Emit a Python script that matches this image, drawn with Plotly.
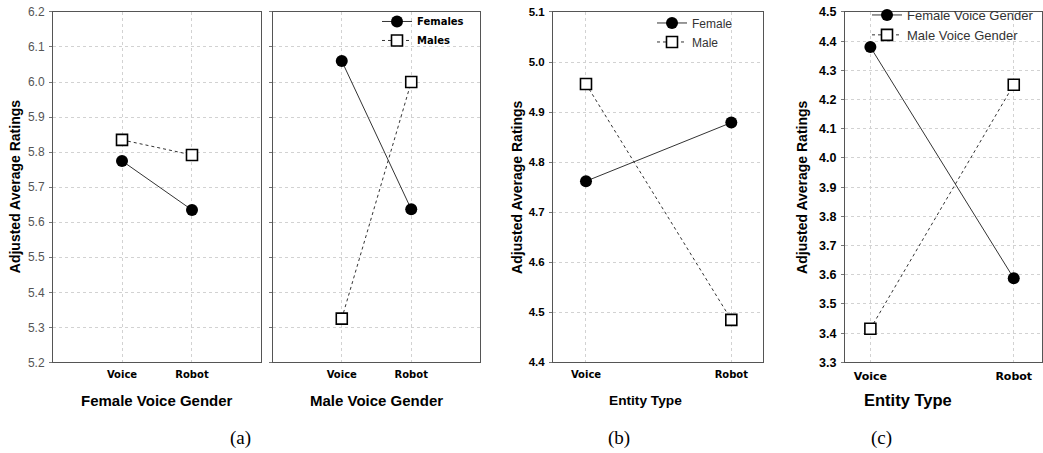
import plotly.graph_objects as go

W, H = 1043, 453

categories = ["Voice", "Robot"]

# Panel (a) left: Female Voice Gender
a1_females = [5.775, 5.635]
a1_males = [5.835, 5.792]
# Panel (a) right: Male Voice Gender
a2_females = [6.06, 5.637]
a2_males = [5.325, 6.0]
# Panel (b): Entity Type by participant gender
b_female = [4.762, 4.879]
b_male = [4.956, 4.485]
# Panel (c): Entity Type by voice gender
c_female_vg = [4.38, 3.588]
c_male_vg = [3.415, 4.251]

a_yticks = [5.2, 5.3, 5.4, 5.5, 5.6, 5.7, 5.8, 5.9, 6.0, 6.1, 6.2]
b_yticks = [4.4, 4.5, 4.6, 4.7, 4.8, 4.9, 5.0, 5.1]
c_yticks = [3.3, 3.4, 3.5, 3.6, 3.7, 3.8, 3.9, 4.0, 4.1, 4.2, 4.3, 4.4, 4.5]


def px(x):
    return x / W


def py(y):
    return 1 - y / H


TOP, BOT = 10, 362
ydom = [py(BOT), py(TOP)]

fig = go.Figure()

LINE_COL = "#333333"
female_marker = dict(symbol="circle", size=12, color="black")
male_marker = dict(symbol="square", size=11, color="white", line=dict(color="black", width=1.6))


def add_pair(xa, ya, f, m, names, legend, show):
    fig.add_trace(go.Scatter(
        x=categories, y=f, mode="lines+markers", name=names[0],
        line=dict(color=LINE_COL, width=1), marker=female_marker,
        xaxis=xa, yaxis=ya, legend=legend, showlegend=show))
    fig.add_trace(go.Scatter(
        x=categories, y=m, mode="lines+markers", name=names[1],
        line=dict(color=LINE_COL, width=1, dash="dot"), marker=male_marker,
        xaxis=xa, yaxis=ya, legend=legend, showlegend=show))


add_pair("x", "y", a1_females, a1_males, ["Females", "Males"], "legend", False)
add_pair("x2", "y2", a2_females, a2_males, ["Females", "Males"], "legend", True)
add_pair("x3", "y3", b_female, b_male, ["Female", "Male"], "legend2", True)
add_pair("x4", "y4", c_female_vg, c_male_vg, ["Female Voice Gender", "Male Voice Gender"], "legend3", True)

frame = dict(showline=True, linecolor="#555555", linewidth=1, mirror=True,
             showgrid=True, gridcolor="#d2d2d2", griddash="dot", gridwidth=1,
             zeroline=False, fixedrange=True, automargin=False)


def xaxis(dom, rng, fsize):
    d = dict(frame)
    d.update(domain=[px(dom[0]), px(dom[1])], range=rng, type="category",
             ticks="", ticklabelstandoff=3,
             tickfont=dict(family="DejaVu Sans", size=fsize, color="black", weight="bold"))
    return d


def yaxis(anchor, rng, tickv, fsize, bold, color, showlabels=True):
    d = dict(frame)
    d.update(domain=ydom, range=rng, anchor=anchor, tickvals=tickv,
             ticktext=[f"{v:.1f}" for v in tickv], showticklabels=showlabels,
             ticks="outside", ticklen=3, tickcolor="#777777", ticklabelstandoff=2,
             tickfont=dict(family="Liberation Sans, Arial", size=fsize, color=color,
                           weight="bold" if bold else "normal"))
    return d


fig.update_layout(
    template="none",
    width=W, height=H, autosize=False,
    margin=dict(l=0, r=0, t=0, b=0, pad=0),
    paper_bgcolor="white", plot_bgcolor="white",
    xaxis=xaxis([53, 261], [-0.986, 1.986], 10),
    yaxis=yaxis("x", [5.2, 6.2], a_yticks, 12, False, "#555555"),
    xaxis2=xaxis([273, 480], [-0.99, 1.99], 10),
    yaxis2=yaxis("x2", [5.2, 6.2], a_yticks, 12, False, "#555555", showlabels=False),
    xaxis3=xaxis([553, 763], [-0.227, 1.218], 10),
    yaxis3=yaxis("x3", [4.4, 5.1], b_yticks, 11.5, True, "black"),
    xaxis4=xaxis([845, 1042], [-0.177, 1.197], 11),
    yaxis4=yaxis("x4", [3.3, 4.5], c_yticks, 12.5, True, "black"),
    legend=dict(x=px(377), y=py(5), xanchor="left", yanchor="top",
                bgcolor="rgba(0,0,0,0)", borderwidth=0,
                font=dict(family="DejaVu Sans", size=10, color="black", weight="bold")),
    legend2=dict(x=px(652), y=py(6.5), xanchor="left", yanchor="top",
                 bgcolor="rgba(0,0,0,0)", borderwidth=0,
                 font=dict(family="Liberation Sans, Arial", size=12, color="#333333")),
    legend3=dict(x=px(867), y=py(-2), xanchor="left", yanchor="top",
                 bgcolor="rgba(0,0,0,0)", borderwidth=0,
                 font=dict(family="Liberation Sans, Arial", size=13, color="#333333")),
    showlegend=True,
)

ann = []
bold_font = lambda s: dict(family="Liberation Sans, Arial", size=s, color="black", weight="bold")
# y axis titles
for xc in [15, 516.7, 801.7]:
    ann.append(dict(x=px(xc), y=py(186), xref="paper", yref="paper",
                    text="Adjusted Average Ratings", textangle=-90, showarrow=False,
                    font=bold_font(14), xanchor="center", yanchor="middle"))
# x axis titles
for xc, txt, s in [(157, "Female Voice Gender", 15), (376.5, "Male Voice Gender", 15),
                   (645, "Entity Type", 13.7), (908, "Entity Type", 16.5)]:
    ann.append(dict(x=px(xc), y=py(400), xref="paper", yref="paper", text=txt,
                    showarrow=False, font=bold_font(s), xanchor="center", yanchor="middle"))
# captions
for xc, txt in [(240, "(a)"), (619, "(b)"), (881, "(c)")]:
    ann.append(dict(x=px(xc), y=py(438), xref="paper", yref="paper", text=txt,
                    showarrow=False,
                    font=dict(family="Liberation Serif, DejaVu Serif, serif", size=19, color="black"),
                    xanchor="center", yanchor="middle"))
fig.update_layout(annotations=ann)

fig.write_html("out.html", config={"displayModeBar": False},
               post_script="document.body.style.margin='0';")
